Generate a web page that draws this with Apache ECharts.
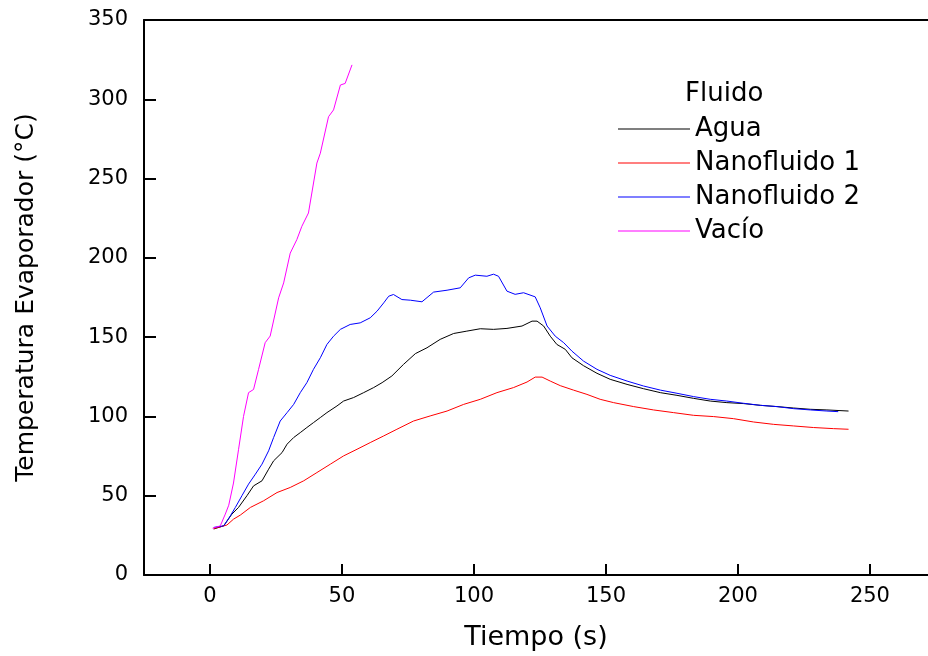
<!DOCTYPE html>
<html>
<head>
<meta charset="utf-8">
<script src="https://cdn.jsdelivr.net/npm/echarts@6/dist/echarts.min.js"></script>
<style>html,body{margin:0;padding:0;background:#fff}#c{width:928px;height:656px}</style>
</head>
<body>
<div id="c"></div>
<script>
const xTicks = [0, 50, 100, 150, 200, 250];
const seriesNames = ['Agua', 'Nanofluido 1', 'Nanofluido 2', 'Vacío'];

const aguaT = [1.4, 5.2, 8.3, 10.8, 14, 16.5, 19.7, 22.2, 24.1, 27.3, 29.2, 31.7, 34.2, 36.7, 39.2, 41.8, 44.3, 48.1, 50.6, 54.4, 58.2, 62, 65.2, 68.9, 73.3, 77.8, 82.2, 87.2, 92.3, 97.3, 102.4, 107.4, 112.5, 118.2, 122, 123.9, 126.4, 128.9, 131.4, 134.6, 137.1, 141.5, 146.6, 151.6, 158, 164.2, 170.6, 176.9, 183.2, 189.5, 195.8, 202.1, 208.5, 214.8, 221.1, 227.4, 233.7, 241.9];
const aguaV = [29, 31, 38.4, 42.6, 50, 56.2, 59.4, 66.7, 72, 77.2, 82.5, 86.7, 89.8, 93, 96.1, 99.3, 102.4, 106.6, 109.7, 111.9, 115, 118.2, 121.3, 125.5, 132.8, 139.6, 143.3, 148.6, 152.3, 153.8, 155.3, 154.9, 155.5, 157, 160.1, 160.1, 157, 150.6, 145.4, 142.3, 137, 132, 127.2, 123.4, 120.2, 117.5, 115, 113.3, 111.4, 109.7, 108.7, 108.1, 107, 106.2, 105.3, 104.5, 104.1, 103.4];

const nano1T = [1.4, 6.4, 8.9, 11.5, 15.3, 20.3, 25.4, 30.4, 35.5, 40.5, 45.6, 50.6, 55.7, 60.7, 65.8, 70.8, 77.1, 83.4, 89.8, 96.1, 102.4, 108.7, 115, 120.1, 123.2, 125.8, 128.9, 132.7, 137.7, 142.8, 147.8, 152.9, 160.5, 168, 175.6, 183.2, 190.8, 198.3, 205.9, 213.5, 221.1, 228.6, 236.2, 241.9];
const nano1V = [29.3, 31.5, 35.2, 37.8, 42.6, 46.8, 52, 55.2, 59.4, 64.6, 69.9, 75.1, 79.3, 83.5, 87.7, 91.9, 97.1, 100.3, 103.4, 107.6, 110.8, 115, 118.2, 121.7, 124.8, 124.8, 122.3, 119.4, 116.6, 113.9, 110.8, 108.7, 106.2, 104.1, 102.4, 100.7, 99.9, 98.6, 96.5, 95, 94, 93, 92.3, 91.9];

const nano2T = [1.4, 5.2, 7.7, 9.6, 12.1, 14.6, 17.2, 19.7, 22.2, 24.1, 26.6, 29.2, 31.7, 34.2, 36.7, 39.2, 41.8, 44.3, 46.8, 49.4, 53.1, 56.9, 60.7, 63.3, 65.8, 67.7, 69.5, 72.7, 75.9, 80.3, 84.7, 89.8, 94.8, 98, 100.5, 104.9, 107.4, 109.3, 112.5, 115.6, 118.8, 123.2, 125.1, 127.7, 130.8, 134, 137.1, 141.5, 146.6, 151.6, 158, 164.2, 170.6, 176.9, 183.2, 189.5, 195.8, 202.1, 208.5, 214.8, 221.1, 227.4, 233.7, 238];
const nano2V = [30, 31, 37.3, 42.6, 50, 57.3, 63.6, 69.9, 78.3, 86.7, 97.1, 102.4, 107.6, 115, 121.3, 129.7, 137, 145.4, 150.6, 154.9, 158, 159, 162.2, 166.4, 171.6, 175.8, 176.9, 173.7, 173.3, 172.3, 178.4, 179.6, 181.1, 187.4, 189.1, 188.4, 189.7, 188.4, 179, 177, 178, 175.4, 168.5, 157, 150.6, 146.5, 141.2, 134.9, 129.7, 125.9, 122.3, 119.2, 116.6, 114.6, 112.5, 110.8, 109.7, 108.3, 107, 106.2, 104.9, 104.1, 103.4, 103];

const vacioT = [1, 3.9, 5.8, 7.1, 8.9, 10.8, 12.7, 14.6, 16.5, 18.4, 20.9, 22.8, 26, 27.9, 30.4, 32.9, 34.8, 37.3, 40.5, 41.8, 44.9, 46.8, 49.4, 51.2, 53.8];
const vacioV = [29.5, 31, 38.4, 44, 58, 79, 100, 115, 117, 129.7, 146.5, 150.7, 174.8, 184.2, 203, 211.5, 219.9, 228.3, 259.8, 266, 289, 293.3, 309, 310, 321.7];

const colors = ['#000000', '#ff0000', '#0000ff', '#ff00ff'];
const FONT = 'DejaVu Sans';

function pairs(t, v) { return t.map((x, i) => [x, v[i]]); }
const allData = [pairs(aguaT, aguaV), pairs(nano1T, nano1V), pairs(nano2T, nano2V), pairs(vacioT, vacioV)];

const chart = echarts.init(document.getElementById('c'), null, {renderer: 'canvas'});
chart.setOption({
  animation: false,
  backgroundColor: '#ffffff',
  title: {
    text: 'Fluido', left: 680, top: 76,
    textStyle: {fontFamily: FONT, fontSize: 26, fontWeight: 'normal', color: '#000'}
  },
  legend: {
    orient: 'vertical', left: 613, top: 111,
    itemWidth: 72, itemHeight: 1, itemGap: 8,
    icon: 'rect',
    data: seriesNames,
    textStyle: {fontFamily: FONT, fontSize: 26, color: '#000', lineHeight: 26}
  },
  grid: {left: 144, top: 20, right: 0, bottom: 80, containLabel: false},
  xAxis: [{
    type: 'value', min: -25, max: 272, position: 'bottom',
    name: 'Tiempo (s)', nameLocation: 'middle', nameGap: 49,
    nameTextStyle: {fontFamily: FONT, fontSize: 27, color: '#000'},
    axisLine: {show: true, onZero: false, lineStyle: {color: '#000', width: 2}},
    axisTick: {show: true, inside: true, length: 11, customValues: xTicks, lineStyle: {color: '#000', width: 2}},
    axisLabel: {customValues: xTicks, margin: 11, fontFamily: FONT, fontSize: 21, color: '#000'},
    splitLine: {show: false}
  }, {
    type: 'value', min: -25, max: 272, position: 'top',
    axisLine: {show: true, onZero: false, lineStyle: {color: '#000', width: 2}},
    axisTick: {show: false}, axisLabel: {show: false}, splitLine: {show: false}
  }],
  yAxis: {
    type: 'value', min: 0, max: 350, interval: 50,
    name: 'Temperatura Evaporador (°C)', nameLocation: 'middle', nameGap: 105,
    nameTextStyle: {fontFamily: FONT, fontSize: 25, color: '#000'},
    axisLine: {show: true, onZero: false, lineStyle: {color: '#000', width: 2}},
    axisTick: {show: true, inside: true, length: 12, lineStyle: {color: '#000', width: 2}},
    axisLabel: {margin: 16, fontFamily: FONT, fontSize: 21, color: '#000'},
    splitLine: {show: false}
  },
  series: seriesNames.map((n, i) => ({
    name: n, type: 'line', data: allData[i], xAxisIndex: 0,
    symbol: 'none', showSymbol: false,
    lineStyle: {color: colors[i], width: 1},
    itemStyle: {color: colors[i]}
  }))
});
</script>
</body>
</html>
